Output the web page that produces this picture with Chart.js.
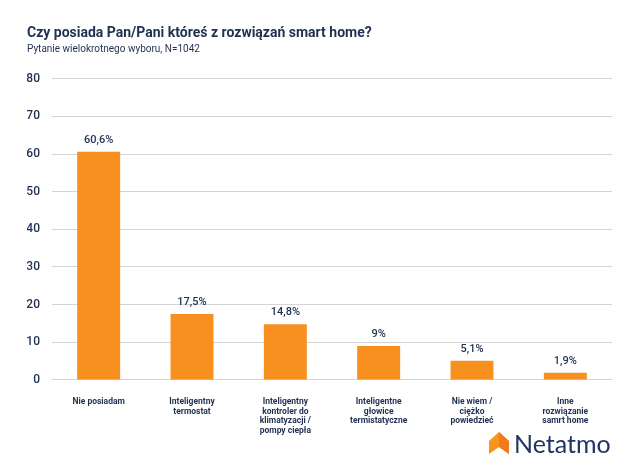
<!DOCTYPE html>
<html>
<head>
<meta charset="utf-8">
<script src="https://cdn.jsdelivr.net/npm/chart.js@4"></script>
<style>
  html, body { margin: 0; padding: 0; background: #fff; }
  #wrap { position: relative; width: 631px; height: 474px; }
  #logo { position: absolute; left: 489px; top: 428px; display: flex; align-items: center; font-family: Lato, "Open Sans", sans-serif; color: #1f3563; font-size: 25px; }
  #logo svg { margin-right: 5px; }
</style>
</head>
<body>
<div id="wrap">
  <canvas id="myChart" width="631" height="474"></canvas>
  <div id="logo">
    <svg width="20" height="22" viewBox="0 0 20 22"><polygon points="0,9 10,0 20,9 20,22 10,15 0,22" fill="#f7941d"/><polygon points="10,0 20,9 20,22 10,15" fill="#f27a1a"/></svg>
    <span>Netatmo</span>
  </div>
</div>
<script>
const categories = [
  ["Nie posiadam"],
  ["Inteligentny", "termostat"],
  ["Inteligentny", "kontroler do", "klimatyzacji /", "pompy ciepła"],
  ["Inteligentne", "głowice", "termistatyczne"],
  ["Nie wiem /", "ciężko", "powiedzieć"],
  ["Inne", "rozwiązanie", "samrt home"]
];
const values = [60.6, 17.5, 14.8, 9, 5.1, 1.9];
const valueLabels = ["60,6%", "17,5%", "14,8%", "9%", "5,1%", "1,9%"];

const navy = "#1f3050";

const barLabels = {
  id: "barLabels",
  afterDatasetsDraw(chart) {
    const ctx = chart.ctx;
    const meta = chart.getDatasetMeta(0);
    ctx.save();
    ctx.font = "500 11px Roboto";
    ctx.fillStyle = navy;
    ctx.textAlign = "center";
    ctx.textBaseline = "bottom";
    meta.data.forEach((bar, i) => {
      ctx.fillText(valueLabels[i], bar.x, bar.y - 6);
    });
    ctx.restore();
  }
};

const ctx = document.getElementById("myChart").getContext("2d");
const chart = new Chart(ctx, {
  type: "bar",
  data: {
    labels: categories,
    datasets: [{
      data: values,
      backgroundColor: "#f7901e",
      categoryPercentage: 1,
      barPercentage: 0.46
    }]
  },
  options: {
    responsive: false,
    animation: false,
    layout: { padding: { left: 27, right: 19, top: 25, bottom: 29 } },
    plugins: {
      legend: { display: false },
      tooltip: { enabled: false },
      title: {
        display: true,
        align: "start",
        text: "Czy posiada Pan/Pani któreś z rozwiązań smart home?",
        color: navy,
        font: { family: "Roboto", size: 14, weight: "bold" },
        padding: { top: 0, bottom: 2 }
      },
      subtitle: {
        display: true,
        align: "start",
        text: "Pytanie wielokrotnego wyboru, N=1042",
        color: navy,
        font: { family: "Roboto", size: 10 },
        padding: { top: 0, bottom: 23 }
      }
    },
    scales: {
      y: {
        min: 0,
        max: 80,
        afterFit(scale) { scale.width = 25; },
        ticks: {
          stepSize: 10,
          color: navy,
          font: { family: "Roboto", size: 12, weight: "500" },
          padding: 12
        },
        grid: { color: "#d4d4d4", drawTicks: false },
        border: { display: false }
      },
      x: {
        ticks: {
          color: navy,
          font: { family: "Roboto", size: 8.5, weight: "bold", lineHeight: 1.15 },
          padding: 9,
          maxRotation: 0,
          autoSkip: false
        },
        grid: { display: false },
        border: { display: false }
      }
    }
  },
  plugins: [barLabels]
});
</script>
</body>
</html>
